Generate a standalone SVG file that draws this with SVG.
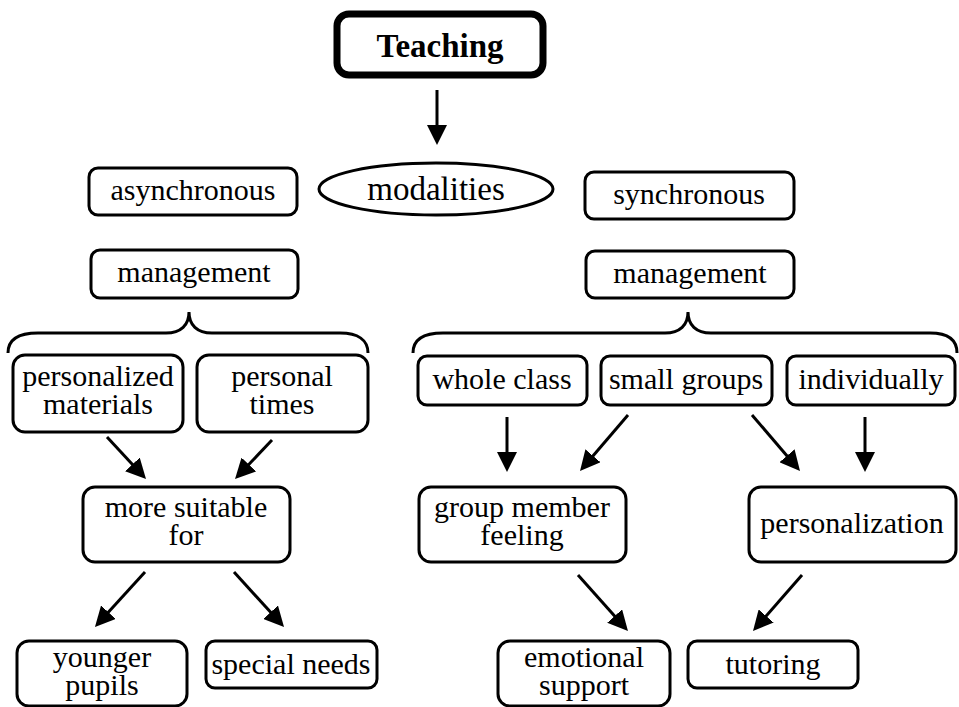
<svg xmlns="http://www.w3.org/2000/svg" width="959" height="707" viewBox="0 0 959 707">
<style>
.box{fill:#fff;stroke:#000;stroke-width:3}
.t{font-family:"Liberation Serif","Times New Roman",serif;font-size:30px;fill:#000;text-anchor:middle}
.c{fill:none;stroke:#000;stroke-width:3}
</style>
<defs>
<marker id="ah" markerUnits="userSpaceOnUse" markerWidth="20" markerHeight="20" viewBox="0 0 20 20" refX="10" refY="10" orient="auto">
<path d="M0,0 L20,10 L0,20 z" fill="#000"/>
</marker>
</defs>
<rect width="959" height="707" fill="#fff"/>
<g id="teaching"><rect x="337" y="14" width="206" height="61" rx="12" fill="#fff" stroke="#000" stroke-width="7"/><text class="t" x="440" y="57" style="font-size:33px;font-weight:bold">Teaching</text></g>
<g id="modalities"><ellipse cx="436" cy="189" rx="117" ry="26" class="box"/><text class="t" x="436" y="200" style="font-size:33px">modalities</text></g>
<g id="asynchronous"><rect class="box" x="89" y="168" width="208" height="47" rx="9"/><text class="t" x="193" y="200">asynchronous</text></g>
<g id="synchronous"><rect class="box" x="585" y="172" width="209" height="47" rx="9"/><text class="t" x="689" y="204">synchronous</text></g>
<g id="management-left"><rect class="box" x="91" y="250" width="207" height="48" rx="9"/><text class="t" x="194" y="282">management</text></g>
<g id="management-right"><rect class="box" x="586" y="251" width="208" height="47" rx="9"/><text class="t" x="690" y="283">management</text></g>
<g id="personalized-materials"><rect class="box" x="13" y="355" width="170" height="77" rx="12"/><text class="t" x="98" y="386">personalized</text><text class="t" x="98" y="414">materials</text></g>
<g id="personal-times"><rect class="box" x="197" y="355" width="171" height="77" rx="12"/><text class="t" x="282" y="386">personal</text><text class="t" x="282" y="414">times</text></g>
<g id="whole-class"><rect class="box" x="418" y="356" width="169" height="49" rx="9"/><text class="t" x="502" y="389">whole class</text></g>
<g id="small-groups"><rect class="box" x="601" y="356" width="171" height="49" rx="9"/><text class="t" x="686" y="389">small groups</text></g>
<g id="individually"><rect class="box" x="787" y="356" width="168" height="49" rx="9"/><text class="t" x="871" y="389">individually</text></g>
<g id="more-suitable-for"><rect class="box" x="83" y="487" width="207" height="75" rx="12"/><text class="t" x="186" y="517">more suitable</text><text class="t" x="186" y="545">for</text></g>
<g id="group-member-feeling"><rect class="box" x="419" y="487" width="207" height="75" rx="12"/><text class="t" x="522" y="517">group member</text><text class="t" x="522" y="545">feeling</text></g>
<g id="personalization"><rect class="box" x="749" y="487" width="207" height="75" rx="12"/><text class="t" x="852" y="533">personalization</text></g>
<g id="younger-pupils"><rect class="box" x="17" y="641" width="170" height="65" rx="12"/><text class="t" x="102" y="667">younger</text><text class="t" x="102" y="695">pupils</text></g>
<g id="special-needs"><rect class="box" x="206" y="641" width="171" height="47" rx="9"/><text class="t" x="291" y="674">special needs</text></g>
<g id="emotional-support"><rect class="box" x="498" y="641" width="172" height="65" rx="12"/><text class="t" x="584" y="667">emotional</text><text class="t" x="584" y="695">support</text></g>
<g id="tutoring"><rect class="box" x="688" y="641" width="170" height="47" rx="9"/><text class="t" x="773" y="674">tutoring</text></g>
<g id="connectors">
<path class="c" d="M8,353 C8,340 18,333 38,333 L166,333 C181,333 189,325 189,312 C189,325 197,333 212,333 L340,333 C358,333 368,340 368,353"/>
<path class="c" d="M413,353 C413,340 423,333 443,333 L665,333 C680,333 688,325 688,312 C688,325 696,333 711,333 L930,333 C948,333 957,340 957,353"/>
<g class="c" marker-end="url(#ah)">
<line x1="437" y1="90" x2="437" y2="135"/>
<line x1="107" y1="437" x2="139.2" y2="471.7"/>
<line x1="272" y1="440" x2="241.9" y2="471.75"/>
<line x1="145" y1="572" x2="101.7" y2="619.6"/>
<line x1="234" y1="572" x2="277.3" y2="619.6"/>
<line x1="507" y1="417" x2="507" y2="462"/>
<line x1="628" y1="415" x2="586.5" y2="463.4"/>
<line x1="752" y1="415" x2="793.5" y2="463.4"/>
<line x1="865" y1="417" x2="865" y2="462"/>
<line x1="578" y1="575" x2="621.3" y2="623.5"/>
<line x1="802" y1="575" x2="759.6" y2="623.5"/>
</g>
</g>
</svg>
